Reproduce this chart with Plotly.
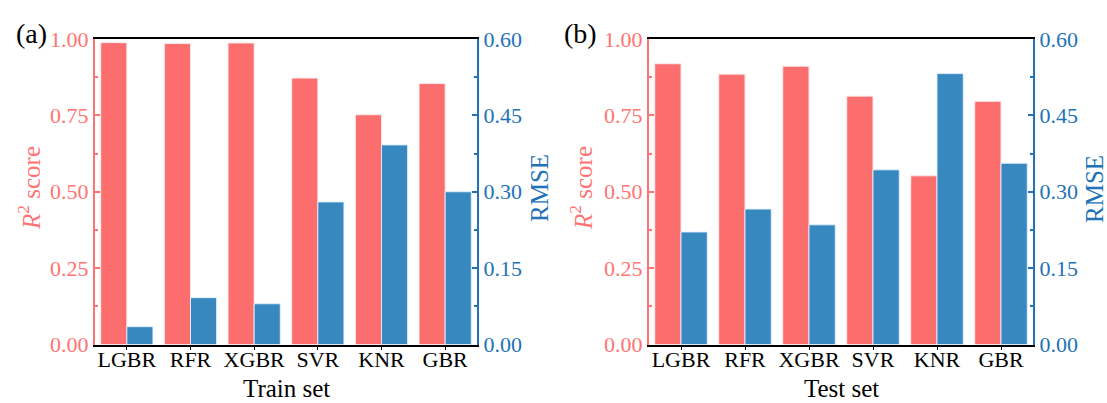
import plotly.graph_objects as go

models = ["LGBR", "RFR", "XGBR", "SVR", "KNR", "GBR"]
train_r2 = [0.988, 0.985, 0.987, 0.872, 0.752, 0.854]
train_rmse = [0.035, 0.092, 0.080, 0.280, 0.392, 0.300]
test_r2 = [0.919, 0.885, 0.911, 0.813, 0.552, 0.796]
test_rmse = [0.221, 0.266, 0.235, 0.343, 0.532, 0.356]

r2_ticks = [0.0, 0.25, 0.5, 0.75, 1.0]
rmse_ticks = [0.0, 0.15, 0.30, 0.45, 0.60]

RED = "#FC6E6E"
RED_AX = "#FF7373"
BLUE = "#3888C0"
BLUE_AX = "#2272B8"
FONT = "Liberation Serif"
W, H = 1107, 403

fig = go.Figure()

def add_pair(r2, rmse, xa, ya_l, ya_r):
    fig.add_trace(go.Bar(x=models, y=r2, xaxis=xa, yaxis=ya_l, width=0.41, offset=-0.41,
                         marker=dict(color=RED, line=dict(color="rgba(255,235,235,0.9)", width=1)),
                         showlegend=False))
    fig.add_trace(go.Bar(x=models, y=rmse, xaxis=xa, yaxis=ya_r, width=0.41, offset=0.0,
                         marker=dict(color=BLUE, line=dict(color="rgba(225,240,255,0.9)", width=1)),
                         showlegend=False))

add_pair(train_r2, train_rmse, "x", "y", "y2")
add_pair(test_r2, test_rmse, "x2", "y3", "y4")

ydom = [1 - 344.5 / H, 1 - 39 / H]
xdom1 = [95 / W, 477 / W]
xdom2 = [649 / W, 1033 / W]

def xaxis_cfg(dom, anchor):
    return dict(domain=dom, anchor=anchor, automargin=False, showline=True, linecolor="black",
                linewidth=2, mirror=True, ticks="outside", ticklen=3, tickcolor="black",
                tickwidth=1, ticklabelstandoff=-9,
                tickfont=dict(family=FONT, size=22, color="black"),
                showgrid=False, fixedrange=True)

def yleft_cfg(anchor):
    return dict(domain=ydom, anchor=anchor, automargin=False, range=[0, 1], tickvals=r2_ticks,
                ticktext=[f"{v:.2f}" for v in r2_ticks], showline=True, linecolor=RED_AX,
                linewidth=2, ticks="inside", ticklen=5, tickcolor=RED_AX, tickwidth=1.5,
                minor=dict(ticks="inside", ticklen=3, tickcolor=RED_AX, dtick=0.125, tick0=0),
                tickfont=dict(family=FONT, size=22, color=RED_AX), showgrid=False,
                zeroline=False)

def yright_cfg(anchor, overlay):
    return dict(overlaying=overlay, anchor=anchor, automargin=False, side="right",
                range=[0, 0.6], tickvals=rmse_ticks, ticktext=[f"{v:.2f}" for v in rmse_ticks],
                showline=True, linecolor=BLUE_AX, linewidth=2, ticks="inside", ticklen=5,
                tickcolor=BLUE_AX, tickwidth=1.5,
                minor=dict(ticks="inside", ticklen=3, tickcolor=BLUE_AX, dtick=0.075, tick0=0),
                tickfont=dict(family=FONT, size=22, color=BLUE_AX), showgrid=False,
                zeroline=False)

fig.update_layout(
    width=W, height=H, margin=dict(l=0, r=0, t=0, b=0, autoexpand=False),
    paper_bgcolor="white", plot_bgcolor="white",
    barmode="overlay", bargap=0.18,
    xaxis=xaxis_cfg(xdom1, "y"),
    yaxis=yleft_cfg("x"),
    yaxis2=yright_cfg("x", "y"),
    xaxis2=xaxis_cfg(xdom2, "y3"),
    yaxis3=yleft_cfg("x2"),
    yaxis4=yright_cfg("x2", "y3"),
)

def ann(text, x, y, size, color, angle=0):
    fig.add_annotation(text=text, x=x / W, y=1 - y / H, xref="paper", yref="paper",
                       showarrow=False, textangle=angle, xanchor="center", yanchor="middle",
                       font=dict(family=FONT, size=size, color=color))

ann("(a)", 31, 33, 28, "black")
ann("(b)", 580, 33, 28, "black")
ann("<i>R</i><sup>2</sup> score", 29, 188, 25, RED_AX, -90)
ann("<i>R</i><sup>2</sup> score", 581, 188, 25, RED_AX, -90)
ann("RMSE", 540, 188, 25, BLUE_AX, -90)
ann("RMSE", 1094, 189, 25, BLUE_AX, -90)
ann("Train set", 286, 388, 25, "black")
ann("Test set", 841, 388, 25, "black")

fig.write_html("out.html")
